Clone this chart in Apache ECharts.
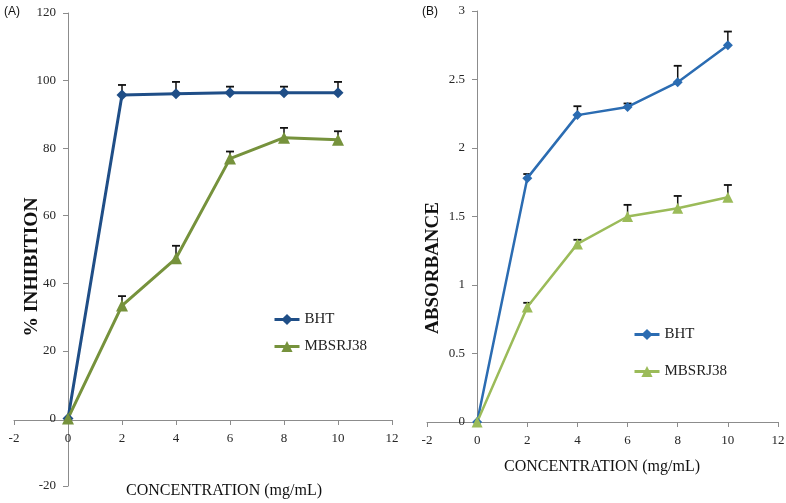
<!DOCTYPE html>
<html>
<head>
<meta charset="utf-8">
<script src="https://cdn.jsdelivr.net/npm/echarts@6/dist/echarts.min.js"></script>
<style>html,body{margin:0;padding:0;background:#fff}#c{width:786px;height:503px}</style>
</head>
<body>
<div id="c"></div>
<script>
// ---- data ----
const conc = [0, 2, 4, 6, 8, 10];
const bhtInhibition = [0, 95.7, 96.1, 96.4, 96.4, 96.4];
const bhtInhibitionErr = [0, 3.0, 3.5, 1.8, 1.8, 3.2];
const mbsInhibition = [0, 33.4, 47.4, 76.9, 83.1, 82.5];
const mbsInhibitionErr = [0, 2.8, 3.7, 2.1, 2.9, 2.5];
const bhtAbs = [0, 1.78, 2.24, 2.30, 2.48, 2.75];
const bhtAbsErr = [0, 0.03, 0.065, 0.025, 0.12, 0.10];
const mbsAbs = [0, 0.84, 1.30, 1.50, 1.56, 1.64];
const mbsAbsErr = [0, 0.03, 0.03, 0.085, 0.09, 0.09];
const seriesNames = ['BHT', 'MBSRJ38'];
const xTitle = 'CONCENTRATION (mg/mL)';
const yTitleA = '% INHIBITION';
const yTitleB = 'ABSORBANCE';

const colA = ['#1f4e87', '#76923c'];
const colB = ['#2b6cb2', '#9bbb59'];

function pts(v) { return conc.map((x, i) => [x, v[i]]); }
function errPts(v, e) { return conc.map((x, i) => [x, v[i], e[i]]); }

function errRender(params, api) {
  const x = api.value(0), y = api.value(1), e = api.value(2);
  if (!e) return null;
  const p0 = api.coord([x, y]);
  const p1 = api.coord([x, y + e]);
  return {
    type: 'group',
    children: [
      {type: 'line', shape: {x1: p0[0], y1: p0[1], x2: p1[0], y2: p1[1]}, style: {stroke: '#111', lineWidth: 1.5}},
      {type: 'line', shape: {x1: p1[0] - 4, y1: p1[1], x2: p1[0] + 4, y2: p1[1]}, style: {stroke: '#111', lineWidth: 1.8}}
    ]
  };
}

const axisLbl = {fontFamily: 'Liberation Serif', fontSize: 13, color: '#262626'};
const axLine = {onZero: false, lineStyle: {color: '#8c8c8c', width: 1}};
const axTick = {show: true, length: 5, lineStyle: {color: '#8c8c8c'}};

// grid A: x in [-2,12] over 14..392 ; y in [-20,120] over 486..13
// grid B: x in [-2,12] over 427..778 ; y in [0,3] over 422..11
const chart = echarts.init(document.getElementById('c'), null, {renderer: 'canvas'});
chart.setOption({
  animation: false,
  backgroundColor: '#fff',
  grid: [
    {left: 14, right: 394, top: 13, bottom: 17, containLabel: false, outerBoundsMode: 'none'},
    {left: 427, right: 8, top: 11, bottom: 81, containLabel: false, outerBoundsMode: 'none'}
  ],
  xAxis: [
    {type: 'value', gridIndex: 0, min: -2, max: 12, interval: 2, position: 'bottom', offset: -66,
      axisLine: axLine, axisTick: axTick, splitLine: {show: false},
      axisLabel: Object.assign({margin: 12}, axisLbl)},
    {type: 'value', gridIndex: 1, min: -2, max: 12, interval: 2, position: 'bottom', offset: 0,
      axisLine: axLine, axisTick: axTick, splitLine: {show: false},
      axisLabel: Object.assign({margin: 12}, axisLbl)}
  ],
  yAxis: [
    {type: 'value', gridIndex: 0, min: -20, max: 120, interval: 20, position: 'left', offset: -54,
      axisLine: axLine, axisTick: axTick, splitLine: {show: false},
      axisLabel: Object.assign({margin: 12}, axisLbl)},
    {type: 'value', gridIndex: 1, min: 0, max: 3, interval: 0.5, position: 'left', offset: -50,
      axisLine: axLine, axisTick: axTick, splitLine: {show: false},
      axisLabel: Object.assign({margin: 12}, axisLbl)}
  ],
  legend: [
    {left: 268, top: 307, orient: 'vertical', itemWidth: 25, itemHeight: 14, itemGap: 12, selectedMode: false,
      textStyle: {fontFamily: 'Liberation Serif', fontSize: 15, color: '#222'},
      data: [
        {name: seriesNames[0], itemStyle: {color: colA[0]}, lineStyle: {color: colA[0], width: 3}},
        {name: seriesNames[1], itemStyle: {color: colA[1]}, lineStyle: {color: colA[1], width: 3}}
      ]},
    {left: 628, top: 322, orient: 'vertical', itemWidth: 25, itemHeight: 14, itemGap: 22, selectedMode: false,
      textStyle: {fontFamily: 'Liberation Serif', fontSize: 15, color: '#222'},
      data: [
        {name: seriesNames[0], itemStyle: {color: colB[0]}, lineStyle: {color: colB[0], width: 3}},
        {name: seriesNames[1], itemStyle: {color: colB[1]}, lineStyle: {color: colB[1], width: 3}}
      ]}
  ],
  series: [
    {type: 'custom', xAxisIndex: 0, yAxisIndex: 0, renderItem: errRender, data: errPts(bhtInhibition, bhtInhibitionErr), z: 1, silent: true},
    {type: 'custom', xAxisIndex: 0, yAxisIndex: 0, renderItem: errRender, data: errPts(mbsInhibition, mbsInhibitionErr), z: 1, silent: true},
    {type: 'custom', xAxisIndex: 1, yAxisIndex: 1, renderItem: errRender, data: errPts(bhtAbs, bhtAbsErr), z: 1, silent: true},
    {type: 'custom', xAxisIndex: 1, yAxisIndex: 1, renderItem: errRender, data: errPts(mbsAbs, mbsAbsErr), z: 1, silent: true},
    {name: seriesNames[0], type: 'line', xAxisIndex: 0, yAxisIndex: 0, data: pts(bhtInhibition),
      symbol: 'diamond', symbolSize: 11, lineStyle: {color: colA[0], width: 3}, itemStyle: {color: colA[0]}, z: 3},
    {name: seriesNames[1], type: 'line', xAxisIndex: 0, yAxisIndex: 0, data: pts(mbsInhibition),
      symbol: 'triangle', symbolSize: 12, lineStyle: {color: colA[1], width: 3}, itemStyle: {color: colA[1]}, z: 3},
    {name: seriesNames[0], type: 'line', xAxisIndex: 1, yAxisIndex: 1, data: pts(bhtAbs),
      symbol: 'diamond', symbolSize: 10, lineStyle: {color: colB[0], width: 2.5}, itemStyle: {color: colB[0]}, z: 3},
    {name: seriesNames[1], type: 'line', xAxisIndex: 1, yAxisIndex: 1, data: pts(mbsAbs),
      symbol: 'triangle', symbolSize: 11, lineStyle: {color: colB[1], width: 2.5}, itemStyle: {color: colB[1]}, z: 3}
  ],
  graphic: [
    {type: 'text', left: 4, top: 6, style: {text: '(A)', font: '12px "Liberation Sans"', fill: '#111'}},
    {type: 'text', left: 422, top: 6, style: {text: '(B)', font: '12px "Liberation Sans"', fill: '#111'}},
    {type: 'text', x: 224, y: 491, style: {text: xTitle, font: '16px "Liberation Serif"', fill: '#111', align: 'center', verticalAlign: 'middle'}},
    {type: 'text', x: 602, y: 467, style: {text: xTitle, font: '16px "Liberation Serif"', fill: '#111', align: 'center', verticalAlign: 'middle'}},
    {type: 'text', x: 32, y: 267, rotation: Math.PI / 2, style: {text: yTitleA, font: 'bold 19.5px "Liberation Serif"', fill: '#111', align: 'center', verticalAlign: 'middle'}},
    {type: 'text', x: 433, y: 268, rotation: Math.PI / 2, style: {text: yTitleB, font: 'bold 19px "Liberation Serif"', fill: '#111', align: 'center', verticalAlign: 'middle'}}
  ]
});
</script>
</body>
</html>
